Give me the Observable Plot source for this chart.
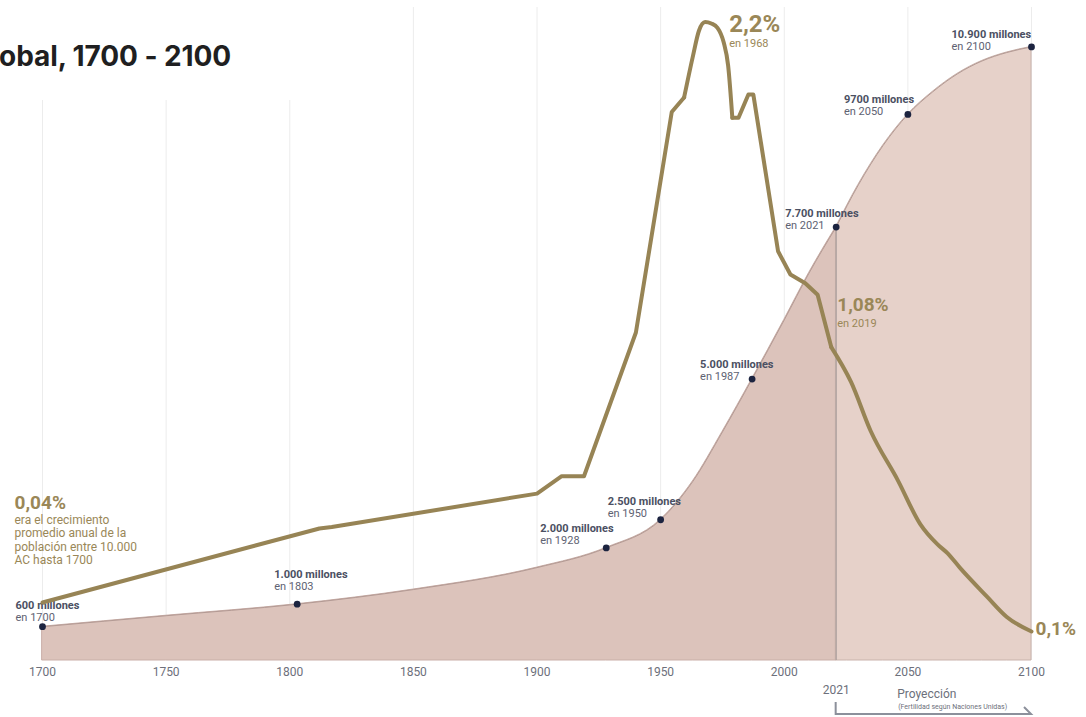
<!DOCTYPE html>
<html lang="es">
<head>
<meta charset="utf-8">
<title>Población global, 1700 - 2100</title>
<script src="https://cdn.jsdelivr.net/npm/d3@7"></script>
<script src="https://cdn.jsdelivr.net/npm/@observablehq/plot@0.6"></script>
<style>
  html, body { margin: 0; padding: 0; background: #fff; }
  body { width: 1086px; height: 717px; overflow: hidden; position: relative; font-family: Roboto, sans-serif; }
  #chart { position: absolute; left: 0; top: 0; width: 1086px; height: 717px; }
  #chart svg { position: absolute; left: 0; top: 0; }
  .title-box { position: absolute; left: 0; top: 0; width: 330px; height: 100px; background: #fff; overflow: hidden; z-index: 5; }
  .title-box h1 { position: absolute; right: 99px; top: 42px; margin: 0; font: 700 28px/28px Inter, sans-serif; color: #1f1f21; white-space: nowrap; letter-spacing: -0.1px; }
</style>
</head>
<body>
<div id="chart"></div>
<div class="title-box"><h1>Crecimiento de la población global, 1700 - 2100</h1></div>
<script>
// Población mundial, en millones de personas
const popYears  = [1700, 1750, 1803, 1850, 1900, 1928, 1950, 1963, 1975, 1987, 2000, 2010, 2021, 2030, 2040, 2050, 2060, 2070, 2080, 2090, 2100];
const popValues = [600,  795,  1000, 1260, 1650, 2000, 2500, 3180, 4060, 5000, 6050, 6880, 7700, 8450, 9150, 9700, 10100, 10420, 10650, 10800, 10900];

// Hitos de población señalados con un punto
const milestoneYears  = [1700, 1803, 1928, 1950, 1987, 2021, 2050, 2100];
const milestoneValues = [600, 1000, 2000, 2500, 5000, 7700, 9700, 10900];
const milestoneLabels = ["600 millones", "1.000 millones", "2.000 millones", "2.500 millones",
                         "5.000 millones", "7.700 millones", "9700 millones", "10.900 millones"];

// Tasa de crecimiento anual de la población, en %
const rateYears  = [1700, 1812, 1817, 1900, 1910, 1919, 1940, 1954.5, 1959.5, 1963, 1965.5, 1968, 1970.5, 1973, 1975.5, 1977.3,
                    1979, 1981.5, 1985.5, 1987.5, 1997.5, 2002.5, 2008.5, 2013.5, 2019, 2027, 2035, 2046, 2055, 2062, 2066, 2071, 2082, 2090, 2100];
const rateValues = [0.20, 0.455, 0.46, 0.575, 0.635, 0.635, 1.13, 1.89, 1.94, 2.08, 2.17, 2.2, 2.195, 2.18, 2.13, 2.05,
                    1.87, 1.87, 1.95, 1.95, 1.41, 1.33, 1.30, 1.26, 1.08, 0.96, 0.79, 0.62, 0.47, 0.40, 0.37, 0.32, 0.22, 0.15, 0.10];

// Tramos de la curva de la tasa: quiebres y tipo de trazo de cada tramo
const rateBreaks = [1700, 1959.5, 1979, 2019, 2100];
const rateCurves = ["linear", "monotone-x", "linear", "monotone-x"];

// Valores destacados de la tasa
const rateCalloutYears  = [1968, 2019, 2100];
const rateCalloutValues = [2.2, 1.08, 0.1];
const rateCalloutLabels = ["2,2%", "1,08%", "0,1%"];
const rateCalloutNotes  = ["en 1968", "en 2019", ""];

const historicRate = "0,04%";
const historicRateNote = "era el crecimiento\npromedio anual de la\npoblación entre 10.000\nAC hasta 1700";

const axisTicks = [1700, 1750, 1800, 1850, 1900, 1950, 2000, 2050, 2100];
const projectionStart = 2021;
const projectionEnd = 2100;
const projectionTitle = "Proyección";
const projectionNote = "(Fertilidad según Naciones Unidas)";

// ---- tablas para las marcas ----
const popData = popYears.map((year, i) => ({year, pop: popValues[i]}));
const historic = popData.filter(d => d.year <= projectionStart);
const projected = popData.filter(d => d.year >= projectionStart);
const milestones = milestoneYears.map((year, i) => ({year, pop: milestoneValues[i], label: milestoneLabels[i], sub: "en " + year}));
const rateData = rateYears.map((year, i) => ({year, rate: rateValues[i]}));
const callouts = rateCalloutYears.map((year, i) => ({year, rate: rateCalloutValues[i], label: rateCalloutLabels[i], note: rateCalloutNotes[i]}));

// ---- estilo ----
const GOLD = "#978455";
const GOLD_TEXT = "#9a8757";
const INK = "#4b5062";
const INK_LIGHT = "#5e6272";
const FONT = "Roboto, sans-serif";
const POP_CURVE = "monotone-x";

const frame = {width: 1086, height: 717, marginTop: 7, marginRight: 55, marginBottom: 57, marginLeft: 42};

// desplazamiento (px) de cada etiqueta de hito respecto de su punto
const labelOffset = {
  1700: [-27, -21], 1803: [-23, -30], 1928: [-66, -19], 1950: [-53, -18],
  1987: [-52, -15], 2021: [-51, -14], 2050: [-64, -15], 2100: [-80, -12]
};
// desplazamiento de los rótulos de la tasa
const calloutOffset = {
  1968: {dx: 24, dy: 2, size: 24, noteDy: 21},
  2019: {dx: 6, dy: -42, size: 19, noteDy: -24},
  2100: {dx: 4, dy: -3, size: 19, noteDy: 0}
};

const milestoneMarks = milestones.flatMap(d => {
  const [dx, dy] = labelOffset[d.year];
  return [
    Plot.text([d], {x: "year", y: "pop", text: "label", dx, dy, textAnchor: "start",
      fontSize: 11, fontWeight: 700, fontFamily: FONT, fill: INK}),
    Plot.text([d], {x: "year", y: "pop", text: "sub", dx, dy: dy + 12, textAnchor: "start",
      fontSize: 11, fontFamily: FONT, fill: INK_LIGHT})
  ];
});

// llave bajo el eje que marca el tramo proyectado
function projectionBracket(index, scales, values, dimensions) {
  const x1 = scales.x(projectionStart), x2 = scales.x(projectionEnd);
  const base = dimensions.height - dimensions.marginBottom;
  return d3.create("svg:path")
    .attr("d", `M${x1},${base + 42}V${base + 54}H${x2}l-7,-7`)
    .attr("fill", "none")
    .attr("stroke", "#8c909b")
    .attr("stroke-width", 2)
    .node();
}

const popPlot = Plot.plot({
  ...frame,
  style: {background: "transparent", fontFamily: FONT, fontSize: "12px", color: "#6d707b", overflow: "visible"},
  x: {domain: [1700, 2100], ticks: axisTicks, tickFormat: d => String(d), tickSize: 0, tickPadding: 7, label: null},
  y: {domain: [0, 11600], axis: null},
  marks: [
    Plot.ruleX(axisTicks, {stroke: "#ececec", strokeWidth: 1}),
    Plot.areaY(historic, {x: "year", y: "pop", curve: POP_CURVE, fill: "#dcc3bb", stroke: "#c9aea7", strokeWidth: 1}),
    Plot.areaY(projected, {x: "year", y: "pop", curve: POP_CURVE, fill: "#e6d1c9", stroke: "#c9b2ab", strokeWidth: 1}),
    Plot.lineY(historic, {x: "year", y: "pop", curve: POP_CURVE, stroke: "#b39a94", strokeWidth: 1}),
    Plot.lineY(projected, {x: "year", y: "pop", curve: POP_CURVE, stroke: "#b39a94", strokeWidth: 1}),
    Plot.ruleX(milestones.filter(d => d.year === projectionStart), {x: "year", y1: 0, y2: "pop", stroke: "#a99e9b", strokeWidth: 1.2}),
    Plot.dot(milestones, {x: "year", y: "pop", r: 3.4, fill: "#1c2440", stroke: "none"}),
    ...milestoneMarks,
    Plot.text([projectionStart], {x: d => d, frameAnchor: "bottom", dy: 33, text: d => String(d),
      fontSize: 12, fontFamily: FONT, fill: "#6d707b"}),
    Plot.text([projectionStart], {x: d => d, frameAnchor: "bottom", dx: 61, dy: 37, text: () => projectionTitle,
      textAnchor: "start", fontSize: 12, fontFamily: FONT, fill: "#6d707b"}),
    Plot.text([projectionStart], {x: d => d, frameAnchor: "bottom", dx: 62, dy: 48, text: () => projectionNote,
      textAnchor: "start", fontSize: 7, fontFamily: FONT, fill: "#6d707b"}),
    projectionBracket
  ]
});

const calloutMarks = callouts.flatMap(d => {
  const o = calloutOffset[d.year];
  const marks = [
    Plot.text([d], {x: "year", y: "rate", text: "label", dx: o.dx, dy: o.dy, textAnchor: "start",
      fontSize: o.size, fontWeight: 700, fontFamily: FONT, fill: GOLD_TEXT})
  ];
  if (d.note) marks.push(Plot.text([d], {x: "year", y: "rate", text: "note", dx: o.dx, dy: o.noteDy, textAnchor: "start",
      fontSize: 11, fontFamily: FONT, fill: GOLD_TEXT}));
  return marks;
});

// la curva se traza por tramos, cada uno con su interpolación
const rateSegments = rateCurves.map((curve, i) =>
  Plot.line(rateData.filter(d => d.year >= rateBreaks[i] && d.year <= rateBreaks[i + 1]),
    {x: "year", y: "rate", curve, stroke: GOLD, strokeWidth: 4, strokeLinejoin: "round", strokeLinecap: "round"})
);

const rateStart = rateData.slice(0, 1);

const ratePlot = Plot.plot({
  ...frame,
  style: {background: "transparent", fontFamily: FONT, overflow: "visible"},
  x: {domain: [1700, 2100], axis: null},
  y: {domain: [0, 2.25], axis: null},
  marks: [
    ...rateSegments,
    ...calloutMarks,
    Plot.text(rateStart, {x: "year", y: "rate", text: () => historicRate, dx: -28, dy: -100, textAnchor: "start",
      fontSize: 19, fontWeight: 700, fontFamily: FONT, fill: GOLD_TEXT}),
    Plot.text(rateStart, {x: "year", y: "rate", text: () => historicRateNote, dx: -28, dy: -88, textAnchor: "start",
      lineAnchor: "top", lineHeight: 1.12, fontSize: 12, fontFamily: FONT, fill: GOLD_TEXT})
  ]
});

const chart = document.getElementById("chart");
chart.append(popPlot, ratePlot);
</script>
</body>
</html>
